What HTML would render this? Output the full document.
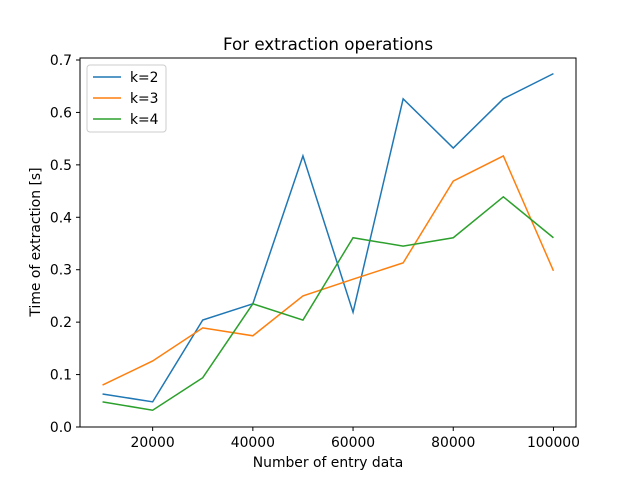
<!DOCTYPE html>
<html><head><meta charset="utf-8"><style>body{margin:0;background:#fff}svg{display:block;font-family:"DejaVu Sans","Liberation Sans",sans-serif}</style></head>
<body>
<svg id="chart" width="640" height="480"></svg>
<script>
const categories=[10000,20000,30000,40000,50000,60000,70000,80000,90000,100000];
const seriesK2=[0.063,0.048,0.204,0.235,0.517,0.219,0.626,0.532,0.626,0.674];
const seriesK3=[0.080,0.126,0.189,0.174,0.250,0.282,0.313,0.469,0.517,0.298];
const seriesK4=[0.048,0.032,0.094,0.235,0.204,0.361,0.345,0.361,0.439,0.361];
const seriesNames=["k=2","k=3","k=4"];
const xTicks=[20000,40000,60000,80000,100000];
const yTicks=[0,0.1,0.2,0.3,0.4,0.5,0.6,0.7];
const yTickLabels=["0.0","0.1","0.2","0.3","0.4","0.5","0.6","0.7"];
const colors=["#1f77b4","#ff7f0e","#2ca02c"];
const svg=document.getElementById('chart');
const NS="http://www.w3.org/2000/svg";
const L=80,R=576,T=58,B=427;
function x(v){return L+(v-5500)/99000*(R-L);}
function y(v){return 427-v/0.7*367;}
function mk(tag,attrs,parent){const e=document.createElementNS(NS,tag);for(const k in attrs)e.setAttribute(k,attrs[k]);(parent||svg).appendChild(e);return e;}
let t=mk('text',{x:328,y:50,'text-anchor':'middle','font-size':16.7});t.textContent="For extraction operations";


xTicks.forEach(v=>{const l=mk('line',{x1:x(v),x2:x(v),y1:B,y2:B+4,stroke:'#000'});


const tx=mk('text',{x:x(v),y:B+20,'text-anchor':'middle','font-size':13.9});tx.textContent=v;

});
yTicks.forEach((v,i)=>{const l=mk('line',{x1:L-4,x2:L,y1:y(v),y2:y(v),stroke:'#000'});


const tx=mk('text',{x:L-8,y:y(v)+5,'text-anchor':'end','font-size':13.9});tx.textContent=yTickLabels[i];

});
t=mk('text',{x:328,y:467,'text-anchor':'middle','font-size':13.9});t.textContent="Number of entry data";


t=mk('text',{x:40,y:242,'text-anchor':'middle','font-size':13.9,transform:'rotate(-90 40 242)'});t.textContent="Time of extraction [s]";


[seriesK2,seriesK3,seriesK4].forEach((s,i)=>{const p=mk('polyline',{points:s.map((v,j)=>x(categories[j])+','+y(v)).join(' '),fill:'none',stroke:colors[i],'stroke-width':1.5});

});
const fr=mk('rect',{x:L,y:T,width:R-L,height:B-T,fill:'none',stroke:'#000','stroke-width':1});


const lg=mk('g',{});


mk('rect',{x:87,y:65,width:79,height:67,rx:3,fill:'#fff',stroke:'#ccc'},lg);
seriesNames.forEach((n,i)=>{const yy=77+i*21;const g=mk('g',{},lg);


mk('line',{x1:93,x2:121,y1:yy,y2:yy,stroke:colors[i],'stroke-width':1.5},g);
const tx=mk('text',{x:130,y:yy+5,'font-size':13.9},g);tx.textContent=n;});
</script>
</body></html>
